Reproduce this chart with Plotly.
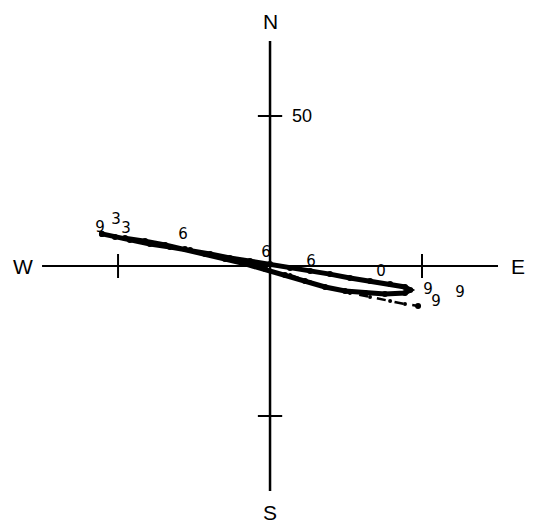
import plotly.graph_objects as go

# Hodograph data (east, north components, cm/s)
track_a_east = [-55.3, -51.0, -46.1, -39.5, -32.9, -26.3, -19.7, -13.2, -6.6, 0.0, 6.6, 13.2, 19.7, 26.3,
                32.9, 39.5, 44.4, 46.1, 44.4, 37.8, 31.3, 24.7, 18.1, 11.5, 4.9, -1.6, -8.2, -14.8,
                -21.4, -28.0, -34.5, -41.1, -47.7]
track_a_north = [10.7, 9.7, 8.7, 7.3, 6.3, 5.3, 4.0, 2.7, 1.7, 0.7, -0.7, -1.7, -2.7, -4.0,
                 -5.0, -6.0, -7.0, -8.0, -9.0, -9.3, -9.0, -8.3, -7.0, -5.0, -3.0, -1.0, 0.7, 2.3,
                 4.0, 5.7, 7.0, 8.3, 9.3]
track_b_east = [6.6, 13.2, 19.7, 26.3, 32.9, 39.5, 44.4, 48.7]
track_b_north = [-3.0, -5.3, -7.3, -9.0, -10.3, -11.7, -12.7, -13.3]

end_east = [-55.3, 48.7]
end_north = [10.7, -13.3]

hour_labels = ["9", "3", "3", "6", "6", "6", "0", "9", "9", "9"]
hour_east = [-55.9, -50.7, -47.4, -28.6, -1.3, 13.5, 36.5, 52.0, 54.6, 62.5]
hour_north = [12.7, 15.3, 12.3, 10.3, 4.3, 1.3, -2.0, -8.0, -12.0, -9.0]

axis_len = 75
tick_val = 50
tick_half = 4

fig = go.Figure()

# axes
fig.add_trace(go.Scatter(x=[-axis_len, axis_len], y=[0, 0], mode="lines",
                         line=dict(color="black", width=2), hoverinfo="skip"))
fig.add_trace(go.Scatter(x=[0, 0], y=[-axis_len, axis_len], mode="lines",
                         line=dict(color="black", width=2.5), hoverinfo="skip"))
# ticks
for v in (-tick_val, tick_val):
    fig.add_trace(go.Scatter(x=[v, v], y=[-tick_half, tick_half], mode="lines",
                             line=dict(color="black", width=2), hoverinfo="skip"))
    fig.add_trace(go.Scatter(x=[-tick_half, tick_half], y=[v, v], mode="lines",
                             line=dict(color="black", width=2), hoverinfo="skip"))

# data tracks
fig.add_trace(go.Scatter(x=track_a_east, y=track_a_north, mode="lines+markers",
                         line=dict(color="black", width=5),
                         marker=dict(color="black", size=6)))
fig.add_trace(go.Scatter(x=track_b_east, y=track_b_north, mode="lines+markers",
                         line=dict(color="black", width=2.5, dash="dash"),
                         marker=dict(color="black", size=4)))
fig.add_trace(go.Scatter(x=end_east, y=end_north, mode="markers",
                         marker=dict(color="black", size=6)))
fig.add_trace(go.Scatter(x=hour_east, y=hour_north, mode="text", text=hour_labels,
                         textfont=dict(family="DejaVu Sans", size=15, color="black")))

fig.add_annotation(x=6.5, y=tick_val, text="50", showarrow=False, xanchor="left",
                   font=dict(family="Liberation Sans", size=18, color="black"))
for txt, xx, yy in [("N", 0, 81.5), ("S", 0, -82), ("E", 81.6, 0), ("W", -81.2, 0)]:
    fig.add_annotation(x=xx, y=yy, text=txt, showarrow=False,
                       font=dict(family="Liberation Sans", size=21, color="black"))

fig.update_layout(
    width=535, height=522,
    margin=dict(l=0, r=0, t=0, b=0),
    paper_bgcolor="white", plot_bgcolor="white",
    showlegend=False,
    xaxis=dict(range=[-86.2, 89.8], visible=False),
    yaxis=dict(range=[-88.0, 86.0], visible=False),
)
fig.write_html("out.html")
